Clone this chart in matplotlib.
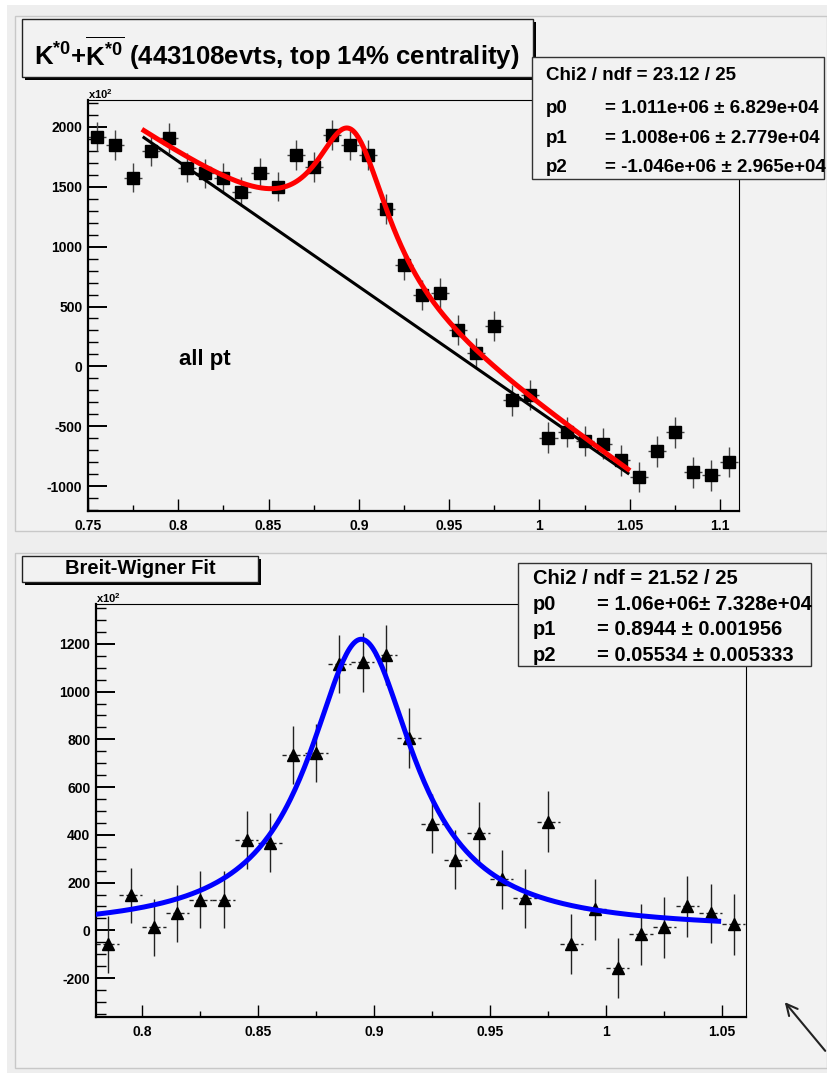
"""
plot.py - K*0 invariant-mass spectra (ROOT-style canvas) redrawn in matplotlib.

Top pad: background-subtracted spectrum with BW + linear fit.
Bottom pad: residual peak with a Breit-Wigner fit.
"""

import matplotlib.pyplot as plt
import numpy as np
from matplotlib.patches import Rectangle
from matplotlib.ticker import FuncFormatter, MultipleLocator

plt.rcParams["font.family"] = ["Liberation Sans", "DejaVu Sans"]
plt.rcParams["font.weight"] = "bold"
plt.rcParams["mathtext.fontset"] = "custom"
plt.rcParams["mathtext.rm"] = "Liberation Sans:bold"
plt.rcParams["mathtext.bf"] = "Liberation Sans:bold"
plt.rcParams["mathtext.it"] = "Liberation Sans:bold"

# -- Data (counts in units of x10^2) -------------------------------------------
top_mass = [0.755, 0.765, 0.775, 0.785, 0.795, 0.805, 0.815, 0.825, 0.835,
            0.845, 0.855, 0.865, 0.875, 0.885, 0.895, 0.905, 0.915, 0.925,
            0.935, 0.945, 0.955, 0.965, 0.975, 0.985, 0.995, 1.005, 1.015,
            1.025, 1.035, 1.045, 1.055, 1.065, 1.075, 1.085, 1.095, 1.105]
top_counts = [1920, 1850, 1575, 1800, 1910, 1660, 1615, 1575, 1460,
              1615, 1500, 1765, 1665, 1935, 1845, 1765, 1315, 845,
              595, 610, 300, 115, 335, -285, -240, -595, -550,
              -625, -645, -785, -925, -710, -550, -885, -910, -800]
top_err = [122, 122, 120, 123, 124, 121, 121, 121, 120,
           122, 121, 124, 123, 126, 125, 125, 124, 125,
           124, 125, 125, 124, 125, 126, 126, 127, 127,
           127, 127, 128, 128, 128, 128, 128, 128, 127]

bottom_mass = [0.785, 0.795, 0.805, 0.815, 0.825, 0.835, 0.845, 0.855,
               0.865, 0.875, 0.885, 0.895, 0.905, 0.915, 0.925, 0.935,
               0.945, 0.955, 0.965, 0.975, 0.985, 0.995, 1.005, 1.015,
               1.025, 1.035, 1.045, 1.055]
bottom_counts = [-58, 146, 13, 71, 129, 129, 380, 367,
                 735, 743, 1115, 1123, 1152, 806, 447, 296,
                 409, 213, 134, 455, -58, 88, -159, -17,
                 13, 100, 71, 25]
bottom_err = [120, 117, 120, 120, 120, 120, 122, 123,
              123, 122, 122, 124, 125, 124, 125, 123,
              127, 125, 125, 127, 126, 127, 126, 127,
              127, 127, 125, 127]

# -- Fit results (from the stat boxes) ------------------------------------------
BIN_WIDTH = 0.01
SCALE = 100.0
TOP_P0, TOP_P1, TOP_P2 = 1.011e6, 1.008e6, -1.046e6
TOP_MASS, TOP_WIDTH = 0.896, 0.0507          # fixed K*0 mass / width
BW_P0, BW_P1, BW_P2 = 1.06e6, 0.8944, 0.05534

top_stats = ["Chi2 / ndf = 23.12 / 25",
             ("p0", "= 1.011e+06 \u00b1 6.829e+04"),
             ("p1", "= 1.008e+06 \u00b1 2.779e+04"),
             ("p2", "= -1.046e+06 \u00b1 2.965e+04")]
bottom_stats = ["Chi2 / ndf = 21.52 / 25",
                ("p0", "= 1.06e+06\u00b1 7.328e+04"),
                ("p1", "= 0.8944 \u00b1 0.001956"),
                ("p2", "= 0.05534 \u00b1 0.005333")]


def breit_wigner(x, amp, mass, width):
    return BIN_WIDTH * amp * width / (2 * np.pi) / ((x - mass) ** 2 + (width / 2) ** 2) / SCALE


W, H = 827, 1073
fig = plt.figure(figsize=(W / 100, H / 100), dpi=100)
fig.patch.set_facecolor("white")

# -- Canvas / pads ---------------------------------------------------------------
bg = fig.add_axes([0, 0, 1, 1], zorder=-10)
bg.set_xlim(0, W)
bg.set_ylim(H, 0)
bg.axis("off")
bg.add_patch(Rectangle((7, 5), W - 7, H - 5, fc="#eeeeee", ec="none"))
bg.add_patch(Rectangle((15, 16), W - 15, 515, fc="#f2f2f2", ec="#c8c8c8", lw=1))
bg.add_patch(Rectangle((15, 553), W - 15, 515, fc="#f2f2f2", ec="#c8c8c8", lw=1))


def px_axes(x0, y0, x1, y1):
    return fig.add_axes([x0 / W, 1 - y1 / H, (x1 - x0) / W, (y1 - y0) / H])


def style_axes(ax, xlim, ylim, ymajor, yminor):
    ax.set_facecolor("none")
    ax.set_xlim(*xlim)
    ax.set_ylim(*ylim)
    ax.xaxis.set_major_locator(MultipleLocator(0.05))
    ax.xaxis.set_minor_locator(MultipleLocator(0.025))
    ax.yaxis.set_major_locator(MultipleLocator(ymajor))
    ax.yaxis.set_minor_locator(MultipleLocator(yminor))
    fmt = FuncFormatter(lambda v, _: f"{round(v, 6):g}")
    ax.xaxis.set_major_formatter(fmt)
    ax.yaxis.set_major_formatter(fmt)
    ax.tick_params(axis="y", which="major", direction="in", length=14, width=1.4, pad=4, labelsize=10)
    ax.tick_params(axis="y", which="minor", direction="in", length=7, width=1.0)
    ax.tick_params(axis="x", which="major", direction="in", length=8.5, width=1.0, pad=6, labelsize=10)
    ax.tick_params(axis="x", which="minor", direction="in", length=4.5, width=1.0)
    for s in ("left", "bottom"):
        ax.spines[s].set_linewidth(1.6)
    for s in ("top", "right"):
        ax.spines[s].set_linewidth(0.8)


# -- Top pad: all pt -------------------------------------------------------------
ax1 = px_axes(88, 100, 739, 511)
style_axes(ax1, (0.75, 1.1105), (-1208, 2225), 500, 100)
m = np.array(top_mass)
ax1.errorbar(top_mass, top_counts, yerr=top_err, fmt="none", ecolor="#444444", elinewidth=1.0, zorder=2)
ax1.hlines(top_counts, m - 0.005, m + 0.005, colors="#444444", lw=1.0, zorder=2)
ax1.plot(top_mass, top_counts, "s", ms=8.6, color="black", zorder=3)

xs = np.linspace(0.781, 1.049, 400)
lin = (TOP_P1 + TOP_P2 * xs) / SCALE
ax1.plot(xs, lin, color="black", lw=2.2, zorder=4)
ax1.plot(xs, lin + breit_wigner(xs, TOP_P0, TOP_MASS, TOP_WIDTH), color="#ff0000", lw=3.6, zorder=5)

# -- Bottom pad: Breit-Wigner fit ------------------------------------------------
ax2 = px_axes(96, 604, 746, 1017)
style_axes(ax2, (0.78, 1.0603), (-363, 1367), 200, 50)
mb = np.array(bottom_mass)
ax2.errorbar(bottom_mass, bottom_counts, yerr=bottom_err, fmt="none", ecolor="#222222", elinewidth=1.0, zorder=2)
ax2.hlines(bottom_counts, mb - 0.005, mb + 0.005, colors="#222222", lw=1.0, linestyles=(0, (3, 2)), zorder=2)
ax2.plot(bottom_mass, bottom_counts, "^", ms=9, color="black", zorder=3)

xb = np.linspace(0.7805, 1.0485, 400)
ax2.plot(xb, breit_wigner(xb, BW_P0, BW_P1, BW_P2), color="#0000ff", lw=3.6, zorder=5)

# -- Overlay: titles, stat boxes, labels -----------------------------------------
ov = fig.add_axes([0, 0, 1, 1], zorder=10)
ov.set_xlim(0, W)
ov.set_ylim(H, 0)
ov.axis("off")
ov.patch.set_alpha(0)

# title boxes with ROOT-like drop shadow
ov.add_patch(Rectangle((25, 22), 511, 58, fc="black", ec="none"))
ov.add_patch(Rectangle((22, 19), 511, 58, fc="#f2f2f2", ec="#222222", lw=1))
ov.text(277, 65, r"$\mathbf{K^{*0}{+}\overline{K^{*0}}}$ (443108evts, top 14% centrality)",
        fontsize=18.5, ha="center", va="baseline")

ov.add_patch(Rectangle((25, 559), 236, 26, fc="black", ec="none"))
ov.add_patch(Rectangle((22, 556), 236, 26, fc="#f2f2f2", ec="#222222", lw=1))
ov.text(140, 574, "Breit-Wigner Fit", fontsize=14.5, ha="center", va="baseline")

# stat boxes
ov.add_patch(Rectangle((532, 57), 292, 122, fc="#f2f2f2", ec="#333333", lw=1))
ov.text(546, 80, top_stats[0], fontsize=13.5, va="baseline")
for (lab, val), yb in zip(top_stats[1:], [113, 143, 172]):
    ov.text(546, yb, lab, fontsize=13.5, va="baseline")
    ov.text(605, yb, val, fontsize=13.5, va="baseline")

ov.add_patch(Rectangle((518, 563), 293, 103, fc="#f2f2f2", ec="#333333", lw=1))
ov.text(533, 584, bottom_stats[0], fontsize=14.5, va="baseline")
for (lab, val), yb in zip(bottom_stats[1:], [610, 635, 661]):
    ov.text(533, yb, lab, fontsize=14.5, va="baseline")
    ov.text(597, yb, val, fontsize=14.5, va="baseline")

ov.text(88, 99, r"x10$^{2}$", fontsize=8, va="baseline")
ov.text(96, 603, r"x10$^{2}$", fontsize=8, va="baseline")
ov.text(179, 365, "all pt", fontsize=16, va="baseline")

ov.annotate("", xy=(783, 1000), xytext=(827, 1053),
            arrowprops=dict(arrowstyle="->", lw=1.5, color="#222222", mutation_scale=20))

fig.savefig("out.png", dpi=100)
